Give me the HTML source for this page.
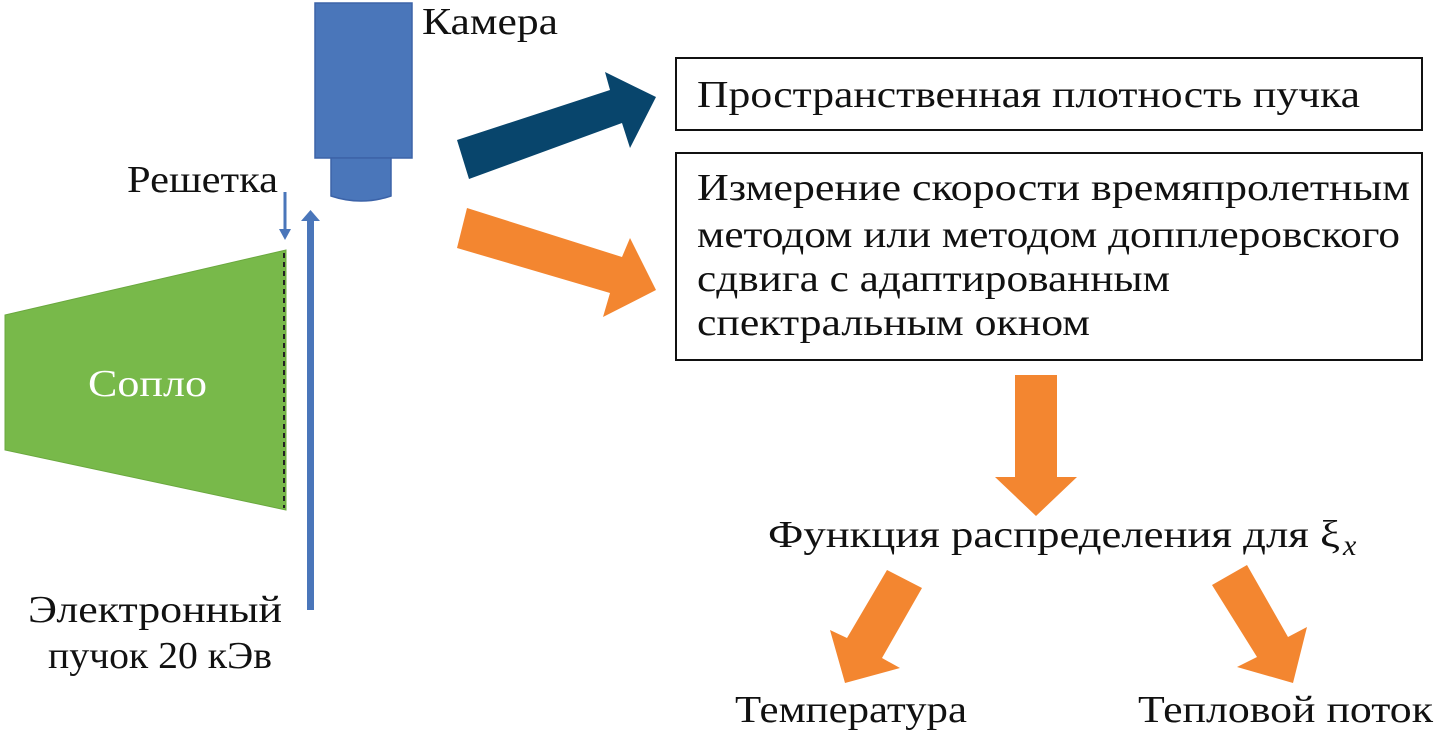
<!DOCTYPE html>
<html><head><meta charset="utf-8"><style>
html,body{margin:0;padding:0;background:#fff;}
svg text{font-family:"Liberation Serif",serif;fill:#111;}
</style></head><body>
<svg width="1434" height="734" viewBox="0 0 1434 734" xmlns="http://www.w3.org/2000/svg">
<!-- camera -->
<rect x="315" y="3" width="97" height="155" fill="#4a76ba" stroke="#3c63a8" stroke-width="1.5"/>
<path d="M331 158 H391 V196 Q361 206 331 196 Z" fill="#4a76ba" stroke="#3c63a8" stroke-width="1.5"/>
<text x="422" y="34" font-size="38" textLength="136" lengthAdjust="spacingAndGlyphs">Камера</text>
<!-- dark arrow -->
<polygon points="457,140 610,90 605,72 656,97 630,148 622,123 469,179" fill="#08456c"/>
<!-- orange arrow 1 -->
<polygon points="467,208 622,257 630,238 656,290 603,317 610,293 457,248" fill="#f38630"/>
<!-- boxes -->
<rect x="676" y="58" width="746" height="72" fill="none" stroke="#111" stroke-width="2"/>
<text x="697" y="107" font-size="38" textLength="663" lengthAdjust="spacingAndGlyphs">Пространственная плотность пучка</text>
<rect x="676" y="153" width="746" height="207" fill="none" stroke="#111" stroke-width="2"/>
<text x="697" y="200" font-size="38" textLength="713" lengthAdjust="spacingAndGlyphs">Измерение скорости времяпролетным</text>
<text x="697" y="247" font-size="38" textLength="703" lengthAdjust="spacingAndGlyphs">методом или методом допплеровского</text>
<text x="697" y="291" font-size="38" textLength="473" lengthAdjust="spacingAndGlyphs">сдвига с адаптированным</text>
<text x="697" y="335" font-size="38" textLength="393" lengthAdjust="spacingAndGlyphs">спектральным окном</text>
<!-- down arrow -->
<polygon points="1015,375 1057,375 1057,477 1077,477 1036,516 995,477 1015,477" fill="#f38630"/>
<text x="768" y="547" font-size="38" textLength="572" lengthAdjust="spacingAndGlyphs">Функция распределения для ξ</text>
<text x="1343" y="555" font-size="30" font-style="italic">x</text>
<!-- left down arrow -->
<polygon points="887,570 922,588 882,658 900,668 845,683 830,630 847,638" fill="#f38630"/>
<!-- right down arrow -->
<polygon points="1212,585 1247,565 1288,637 1307,627 1293,683 1237,667 1257,657" fill="#f38630"/>
<text x="735" y="722" font-size="38" textLength="232" lengthAdjust="spacingAndGlyphs">Температура</text>
<text x="1138" y="722" font-size="38" textLength="295" lengthAdjust="spacingAndGlyphs">Тепловой поток</text>
<!-- nozzle -->
<polygon points="5,315 286,250 286,510 5,450" fill="#78b94a" stroke="#6aa83e" stroke-width="1"/>
<line x1="284" y1="253" x2="284" y2="508" stroke="#222" stroke-width="2" stroke-dasharray="5,4"/>
<text x="88" y="396" font-size="38" style="fill:#fff" textLength="119" lengthAdjust="spacingAndGlyphs">Сопло</text>
<!-- grid arrow -->
<line x1="285" y1="192" x2="285" y2="232" stroke="#4a76ba" stroke-width="3"/>
<polygon points="279,229 291,229 285,240" fill="#4a76ba"/>
<text x="127" y="192" font-size="38" textLength="151" lengthAdjust="spacingAndGlyphs">Решетка</text>
<!-- beam -->
<rect x="307" y="220" width="7" height="390" fill="#4a76ba"/>
<polygon points="301,221 320,221 310.5,210" fill="#4a76ba"/>
<text x="28" y="622" font-size="38" textLength="254" lengthAdjust="spacingAndGlyphs">Электронный</text>
<text x="48" y="668" font-size="38" textLength="224" lengthAdjust="spacingAndGlyphs">пучок 20 кЭв</text>
</svg>
</body></html>
